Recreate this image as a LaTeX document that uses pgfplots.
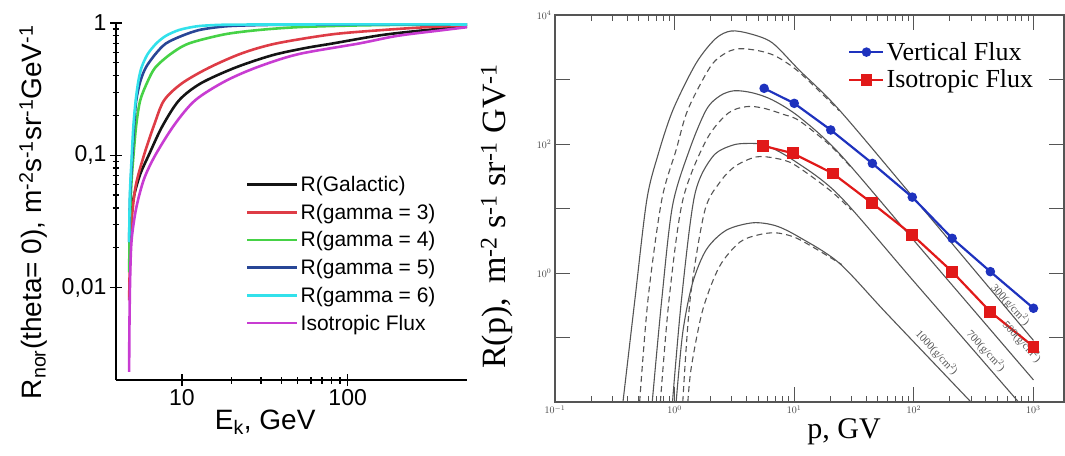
\documentclass[border=0pt]{standalone}
\usepackage{fontspec}
\setmainfont{Liberation Sans}
\newfontfamily\serif{Liberation Serif}
\usepackage{pgfplots}
\pgfplotsset{compat=1.18}

\definecolor{cGal}{RGB}{20,20,20}
\definecolor{cGthree}{RGB}{222,60,70}
\definecolor{cGfour}{RGB}{70,210,70}
\definecolor{cGfive}{RGB}{40,70,150}
\definecolor{cGsix}{RGB}{50,225,235}
\definecolor{cIso}{RGB}{200,60,210}
\definecolor{grline}{RGB}{85,85,85}
\definecolor{vblue}{RGB}{30,50,190}
\definecolor{ired}{RGB}{225,25,25}

\begin{document}
\begin{tikzpicture}
\path[use as bounding box] (0,0) rectangle (1065pt,455pt);

% ---- left panel: normalised response
\begin{axis}[
    at={(116pt,75pt)}, anchor=south west, scale only axis,
    width=351pt, height=357pt,
    xmode=log, ymode=log,
    xmin=4, xmax=525, ymin=0.002, ymax=1,
    axis lines=left, axis line style={-, line width=1.8pt},
    xtick={10,100}, xticklabels={10,100},
    ytick={0.01,0.1,1}, yticklabels={{0,01},{0,1},1},
    tick align=center, major tick length=12pt, minor tick length=7pt,
    every tick/.style={black, line width=1.2pt},
    ticklabel style={font=\fontsize{23}{23}\selectfont},
    xlabel={E\textsubscript{k}, GeV},
    ylabel={R\textsubscript{nor}(theta= 0), m\textsuperscript{-2}s\textsuperscript{-1}sr\textsuperscript{-1}GeV\textsuperscript{-1}},
    label style={font=\fontsize{28}{28}\selectfont},
    xlabel style={at={(axis description cs:0.425,-0.118)}, anchor=center},
    ylabel style={at={(axis description cs:-0.235,0.47)}, anchor=center},
    legend cell align=left,
    legend image code/.code={\draw[#1] (0pt,0pt) -- (50pt,0pt);},
    legend style={at={(axis description cs:0.37,0.577)}, anchor=north west,
        draw=none, fill=none, font=\fontsize{21}{21}\selectfont,
        row sep=7pt, inner sep=0pt},
    every axis plot/.append style={line width=2.6pt, smooth},
]
\addplot[cGal] coordinates {
 (4.85,0.025) (4.95,0.036) (5.15,0.05) (5.6,0.072) (6.3,0.1) (7.6,0.165) (9.6,0.26)
 (13,0.35) (21,0.46) (35,0.57) (55,0.645) (81,0.70) (160,0.81) (300,0.885) (525,0.94)};
\addlegendentry{R(Galactic)}
\addplot[cGthree] coordinates {
 (4.8,0.008) (4.85,0.015) (4.95,0.03) (5.25,0.058) (5.9,0.1) (6.8,0.17) (7.8,0.26)
 (10,0.35) (14.6,0.46) (23,0.59) (37,0.70) (80,0.82) (163,0.885) (300,0.93) (525,0.96)};
\addlegendentry{R(gamma = 3)}
\addplot[cGfour] coordinates {
 (4.8,0.013) (4.85,0.03) (4.95,0.06) (5.1,0.1) (5.3,0.17) (5.6,0.26) (6.2,0.36)
 (6.9,0.46) (8.5,0.58) (11,0.70) (18,0.82) (29,0.885) (50,0.93) (100,0.955)
 (200,0.968) (525,0.975)};
\addlegendentry{R(gamma = 4)}
\addplot[cGfive] coordinates {
 (4.8,0.022) (4.87,0.05) (5.02,0.1) (5.15,0.17) (5.3,0.26) (5.6,0.36) (6.05,0.46)
 (6.9,0.58) (8.0,0.70) (10,0.80) (12.7,0.885) (17,0.935) (22,0.955) (40,0.97)
 (100,0.975) (525,0.975)};
\addlegendentry{R(gamma = 5)}
\addplot[cGsix] coordinates {
 (4.8,0.022) (4.85,0.05) (4.98,0.1) (5.1,0.17) (5.26,0.26) (5.45,0.36) (5.7,0.46)
 (6.2,0.58) (7.0,0.70) (8.0,0.80) (9.6,0.885) (12,0.94) (14.6,0.96) (20,0.972)
 (60,0.975) (525,0.975)};
\addlegendentry{R(gamma = 6)}
\addplot[cIso] coordinates {
 (4.8,0.0023) (4.82,0.005) (4.87,0.012) (4.97,0.023) (5.3,0.04) (5.9,0.066)
 (6.9,0.1) (9,0.17) (12,0.26) (18,0.36) (28,0.46) (50,0.58) (117,0.70) (200,0.80)
 (380,0.885) (525,0.93)};
\addlegendentry{Isotropic Flux}
\end{axis}

% ---- right panel: spectra at depth
\begin{axis}[
    at={(555pt,53pt)}, anchor=south west, scale only axis,
    width=509pt, height=387pt,
    xmode=log, ymode=log,
    xmin=0.1, xmax=1800, ymin=0.01, ymax=10000,
    axis line style={grline, line width=1.1pt},
    xtick={0.1,1,10,100,1000},
    ytick={0.1,1,10,100,1000,10000},
    yticklabels={,$10^{0}$,,$10^{2}$,,$10^{4}$},
    yminorticks=false,
    tick align=inside, major tick length=15pt, minor tick length=6pt,
    every tick/.style={grline, line width=0.8pt},
    ticklabel style={font=\fontsize{10}{10}\selectfont, text=darkgray},
    xlabel={p, GV},
    ylabel={R(p),\, m\textsuperscript{-2} s\textsuperscript{-1} sr\textsuperscript{-1} GV\textsuperscript{-1}},
    xlabel style={font=\serif\fontsize{30}{30}\selectfont,
        at={(axis description cs:0.568,-0.078)}, anchor=center},
    ylabel style={font=\serif\fontsize{34}{34}\selectfont,
        at={(axis description cs:-0.114,0.48)}, anchor=center},
    legend cell align=left,
    legend image code/.code={
        \draw[#1, mark=none] (0pt,0pt) -- (34pt,0pt);
        \draw[#1, only marks] plot coordinates {(17pt,0pt)};},
    legend style={at={(axis description cs:0.576,0.935)}, anchor=north west,
        draw=none, fill=none, font=\serif\fontsize{26}{26}\selectfont,
        row sep=4pt, inner sep=0pt},
]
\pgfplotsset{gsol/.style={grline, line width=1.1pt, smooth, forget plot},
             gdash/.style={grline, line width=1.1pt, smooth, dash pattern=on 6pt off 4pt, forget plot}}
% solid curves
\addplot[gsol] coordinates {
 (0.37,0.01) (0.465,0.38) (0.585,13.5) (0.73,70) (0.97,340) (1.51,1780) (2.2,4300)
 (2.97,5650) (4.3,5100) (6.56,3700) (11,1400) (23.7,340) (100,14.5) (1000,0.09)};
\addplot[gsol] coordinates {
 (0.65,0.01) (0.78,0.38) (0.96,11) (1.33,81) (1.84,340) (2.4,560) (3.16,670)
 (4.5,620) (6.6,480) (11,263) (23.7,72) (100,3.2) (1000,0.022)};
\addplot[gsol] coordinates {
 (0.96,0.01) (1.14,0.38) (1.47,16) (2.07,63) (3,95) (4.1,102) (5.8,95) (10,55)
 (23.7,16) (100,0.74) (750,0.01)};
\addplot[gsol] coordinates {
 (1.03,0.01) (1.17,0.12) (1.41,0.69) (1.84,2.3) (2.7,4.6) (4.5,6) (7,5.4) (11,3.6)
 (23.7,1.43) (60,0.23) (300,0.01)};
% dashed curves
\addplot[gdash] coordinates {
 (0.51,0.01) (0.6,0.4) (0.78,13.5) (1.03,81) (1.29,340) (2,1600) (2.7,2600)
 (3.5,3000) (5,2800) (7,2300) (11,1300) (23.7,330)};
\addplot[gdash] coordinates {
 (0.76,0.01) (0.9,0.4) (1.17,13.5) (1.84,115) (2.8,300) (4,380) (5.5,360) (8,290)
 (11,230) (20,95) (30,43)};
\addplot[gdash] coordinates {
 (1.17,0.01) (1.35,0.4) (1.78,9) (2.37,25) (3.2,45) (4.8,63) (7,60) (10,48)
 (20,19) (30,9.5)};
\addplot[gdash] coordinates {
 (1.29,0.01) (1.38,0.035) (1.72,0.27) (2.37,1.26) (3.5,3.0) (5,3.9) (7,4.2)
 (10,3.6) (15,2.4) (25,1.35)};
% measured fluxes
\addplot[vblue, line width=2.2pt, mark=*, mark size=3.6pt] coordinates {
 (5.6,730) (10,427) (20.2,165) (45,50) (97,15) (209,3.45) (436,1.05) (1000,0.284)};
\addlegendentry{Vertical Flux}
\addplot[ired, line width=2.2pt, mark=square*, mark size=4.8pt] coordinates {
 (5.45,94) (9.7,72) (21,35) (45,12) (97,3.9) (209,1.05) (436,0.25) (1000,0.072)};
\addlegendentry{Isotropic Flux}
% depth labels
\tikzset{dlab/.style={rotate=-47, text=grline, inner sep=0pt, font=\serif\fontsize{11}{11}\selectfont}}
\node[dlab] at (axis cs:155,0.058) {1000(g/cm$^2$)};
\node[dlab] at (axis cs:400,0.062) {700(g/cm$^2$)};
\node[dlab] at (axis cs:800,0.085) {500(g/cm$^2$)};
\node[dlab] at (axis cs:640,0.32) {300(g/cm$^2$)};
\end{axis}
\end{tikzpicture}
\end{document}
